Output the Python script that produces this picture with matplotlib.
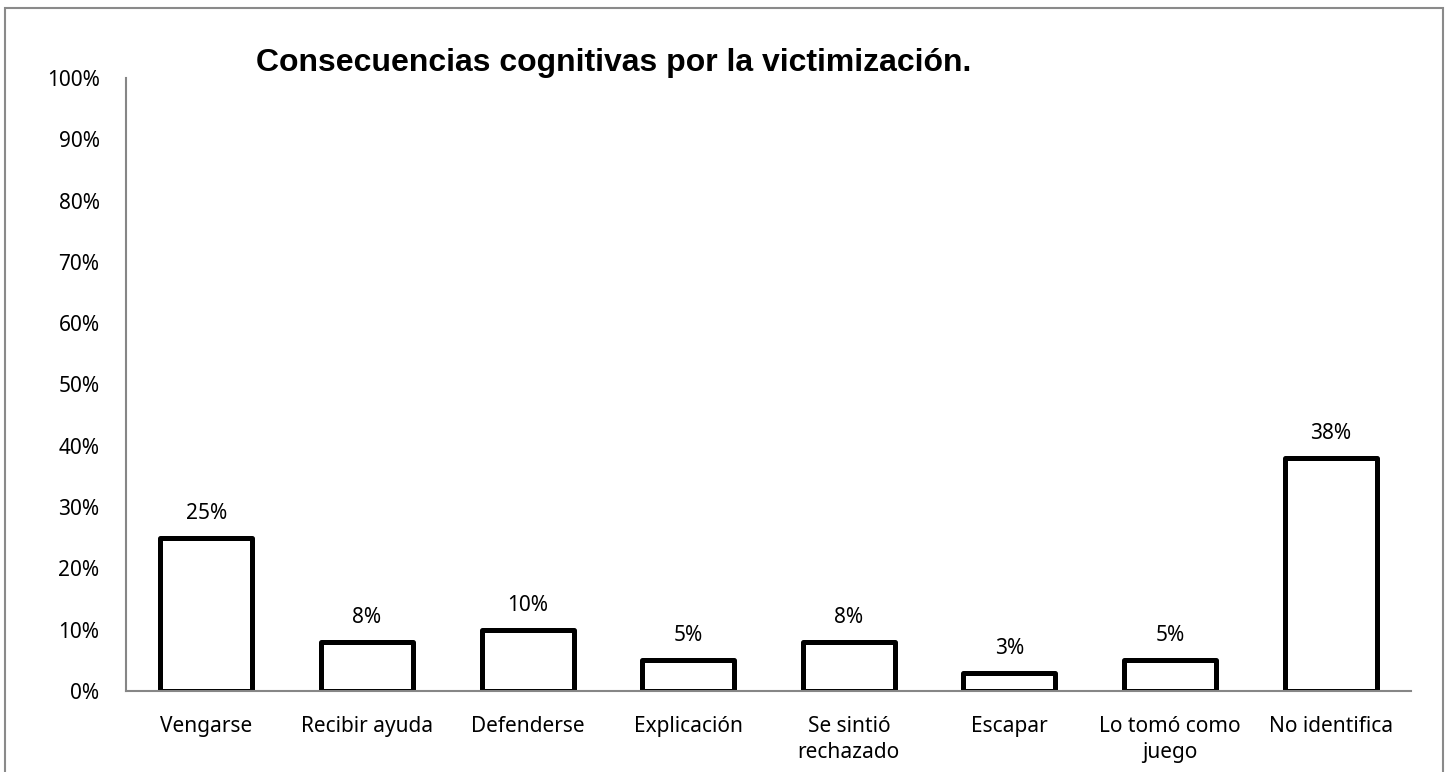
import numpy as np
import matplotlib.pyplot as plt
from matplotlib.patches import Rectangle

categories = ['Vengarse', 'Recibir ayuda', 'Defenderse', 'Explicación',
              'Se sintió\nrechazado', 'Escapar', 'Lo tomó como\njuego', 'No identifica']
values = [25, 8, 10, 5, 8, 3, 5, 38]
yticks = list(range(0, 101, 10))

plt.rcParams['font.family'] = ['Noto Sans', 'DejaVu Sans']

fig = plt.figure(figsize=(14.52, 7.72), dpi=100)
ax = fig.add_axes([126/1452, 1 - 691/772, (1411 - 126)/1452, (691 - 78)/772])

x = np.arange(len(categories))
bars = ax.bar(x, values, width=0.573, color='white', edgecolor='black',
              linewidth=3.6, joinstyle='round')

for xi, v in zip(x, values):
    ax.annotate(f'{v}%', (xi, v), xytext=(0, 10), textcoords='offset points',
                ha='center', va='bottom', fontsize=15)

ax.set_xlim(-0.5, len(categories) - 0.5)
ax.set_ylim(0, 100)
ax.set_yticks(yticks)
ax.set_yticklabels([f'{t}%' for t in yticks], fontsize=15)
ax.set_xticks(x)
ax.set_xticklabels(categories, fontsize=15, linespacing=1.3, va='top')
ax.tick_params(axis='both', length=0)
ax.tick_params(axis='y', pad=19)
ax.tick_params(axis='x', pad=18)

for s in ['top', 'right']:
    ax.spines[s].set_visible(False)
for s in ['left', 'bottom']:
    ax.spines[s].set_color('#868686')
    ax.spines[s].set_linewidth(1.5)

fig.text(614/1452, 1 - 63/772, 'Consecuencias cognitivas por la victimización.',
         ha='center', va='center', fontsize=23, fontweight='bold',
         family=['Liberation Sans', 'DejaVu Sans'])

# outer chart border
fig.patches.append(Rectangle((5/1452, -0.1), (1443 - 5)/1452, 1 - 8/772 + 0.1,
                             transform=fig.transFigure, fill=False,
                             edgecolor='#8a8a8a', linewidth=1.5))

fig.savefig('out.png', dpi=100)
